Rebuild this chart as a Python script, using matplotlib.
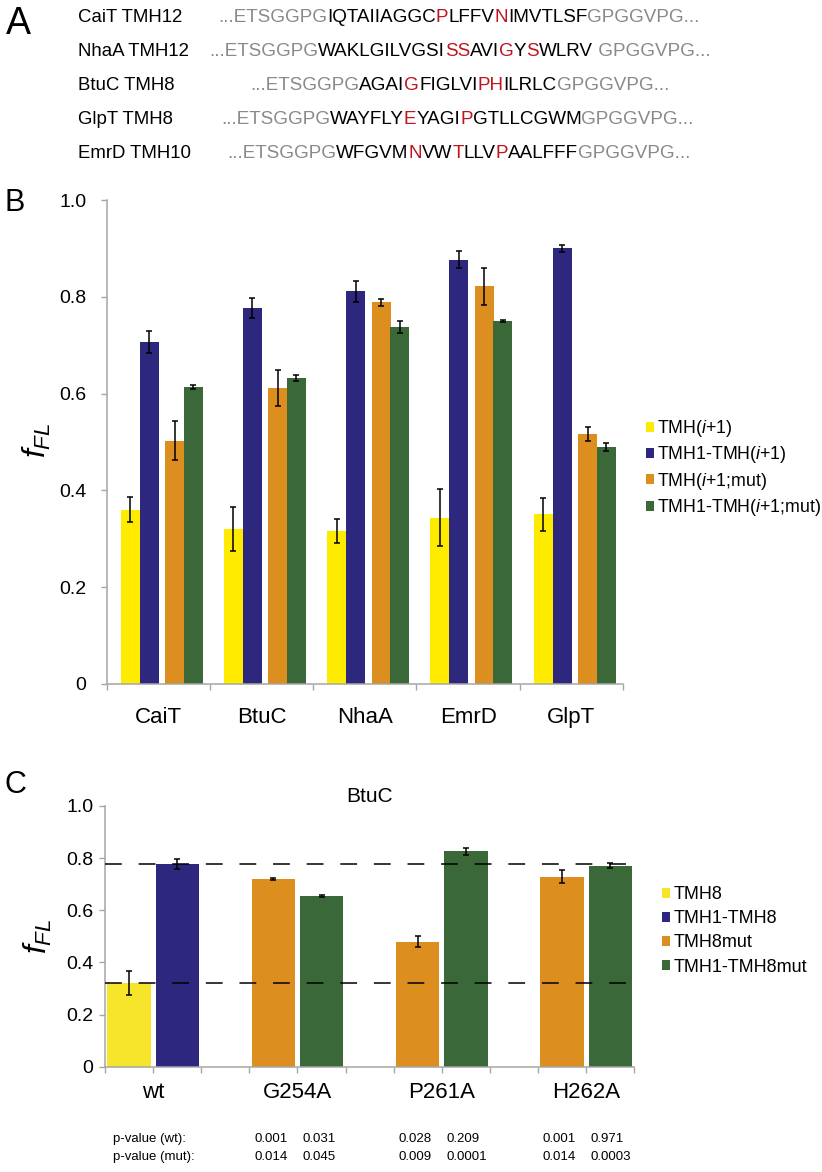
import matplotlib
matplotlib.use('Agg')
import matplotlib.pyplot as plt
from matplotlib.transforms import blended_transform_factory

plt.rcParams['font.family'] = ['Liberation Sans', 'DejaVu Sans']
plt.rcParams['mathtext.fontset'] = 'custom'
plt.rcParams['mathtext.it'] = 'Liberation Sans:italic'
plt.rcParams['mathtext.rm'] = 'Liberation Sans'
plt.rcParams['mathtext.bf'] = 'Liberation Sans:bold'

# ---------------- Panel A data ----------------
seq_names = ['CaiT TMH12', 'NhaA TMH12', 'BtuC TMH8', 'GlpT TMH8', 'EmrD TMH10']
seq_cait = [('...ETSGGPG', 'g'), ('IQTAIIAGGC', 'k'), ('P', 'r'), ('LFFV', 'k'), ('N', 'r'),
            ('IMVTLSF', 'k'), ('GPGGVPG...', 'g')]
seq_nhaa = [('...ETSGGPG', 'g'), ('WAKLGILVGSI', 'k'), ('SS', 'r'), ('AVI', 'k'), ('G', 'r'),
            ('Y', 'k'), ('S', 'r'), ('WLRV', 'k'), (' GPGGVPG...', 'g')]
seq_btuc = [('...ETSGGPG', 'g'), ('AGAI', 'k'), ('G', 'r'), ('FIGLVI', 'k'), ('PH', 'r'),
            ('ILRLC', 'k'), ('GPGGVPG...', 'g')]
seq_glpt = [('...ETSGGPG', 'g'), ('WAYFLY', 'k'), ('E', 'r'), ('YAGI', 'k'), ('P', 'r'),
            ('GTLLCGWM', 'k'), ('GPGGVPG...', 'g')]
seq_emrd = [('...ETSGGPG', 'g'), ('WFGVM', 'k'), ('N', 'r'), ('VW', 'k'), ('T', 'r'),
            ('LLV', 'k'), ('P', 'r'), ('AALFFF', 'k'), ('GPGGVPG...', 'g')]
sequences = [seq_cait, seq_nhaa, seq_btuc, seq_glpt, seq_emrd]

# ---------------- Panel B data ----------------
b_categories = ['CaiT', 'BtuC', 'NhaA', 'EmrD', 'GlpT']
b_labels = [r'TMH($i$+1)', r'TMH1-TMH($i$+1)', r'TMH($i$+1;mut)', r'TMH1-TMH($i$+1;mut)']
b_tmh = [0.360, 0.320, 0.316, 0.344, 0.351]
b_tmh_err = [0.026, 0.045, 0.024, 0.058, 0.034]
b_tmh1 = [0.706, 0.777, 0.811, 0.877, 0.900]
b_tmh1_err = [0.023, 0.021, 0.022, 0.017, 0.007]
b_mut = [0.503, 0.612, 0.789, 0.822, 0.517]
b_mut_err = [0.040, 0.037, 0.007, 0.038, 0.015]
b_tmh1mut = [0.614, 0.632, 0.738, 0.750, 0.490]
b_tmh1mut_err = [0.004, 0.006, 0.013, 0.003, 0.008]

# ---------------- Panel C data ----------------
c_title = 'BtuC'
c_groups = ['wt', 'G254A', 'P261A', 'H262A']
c_labels = ['TMH8', 'TMH1-TMH8', 'TMH8mut', 'TMH1-TMH8mut']
c_tmh8 = 0.320
c_tmh8_err = 0.046
c_tmh1_tmh8 = 0.777
c_tmh1_tmh8_err = 0.020
c_mut = [0.719, 0.480, 0.729]
c_mut_err = [0.003, 0.020, 0.025]
c_tmh1mut = [0.654, 0.826, 0.771]
c_tmh1mut_err = [0.003, 0.013, 0.010]
p_wt = [['0.001', '0.031'], ['0.028', '0.209'], ['0.001', '0.971']]
p_mut = [['0.014', '0.045'], ['0.009', '0.0001'], ['0.014', '0.0003']]

# ---------------- styling ----------------
YELLOW = '#FFEB00'
YELLOW_C = '#F7E52B'
BLUE = '#2D287D'
ORANGE = '#DC8E1E'
GREEN = '#3A6838'
GREY_TXT = '#8A8A8A'
RED_TXT = '#C0141E'
AXC = '#A6A6A6'
txt_colors = {'g': GREY_TXT, 'k': 'black', 'r': RED_TXT}

W, H = 822, 1172
fig = plt.figure(figsize=(W / 100, H / 100), dpi=100)


def fx(px):
    return px / W


def fy(py):
    return 1 - py / H


# ---------------- Panel A ----------------
axA = fig.add_axes([0, 0, 1, 1])
axA.axis('off')
axA.text(fx(18), fy(24), 'A', fontsize=27, ha='center', va='center', transform=fig.transFigure)
row_y = [17, 51, 85, 119, 153]
seq_x = [218, 209, 250, 221, 227]
for name, segs, yy, xx in zip(seq_names, sequences, row_y, seq_x):
    axA.text(fx(78), fy(yy), name, fontsize=13.4, ha='left', va='center',
             transform=fig.transFigure)
    prev = axA.text(fx(xx), fy(yy), segs[0][0], fontsize=13.6, ha='left', va='center',
                    color=txt_colors[segs[0][1]], transform=fig.transFigure)
    for s, c in segs[1:]:
        prev = axA.annotate(s, xy=(1, 0), xycoords=prev, fontsize=13.6,
                            color=txt_colors[c], ha='left', va='bottom')


def style_axes(ax, pad):
    for sp in ['top', 'right']:
        ax.spines[sp].set_visible(False)
    for sp in ['left', 'bottom']:
        ax.spines[sp].set_color(AXC)
        ax.spines[sp].set_linewidth(1.1)
    ax.tick_params(axis='both', colors=AXC, length=4.5, width=1.0, direction='out')
    ax.tick_params(axis='y', labelcolor='black', labelsize=14, pad=pad)
    ax.tick_params(axis='x', labelbottom=False)
    ax.set_ylim(0, 1.0)
    ax.set_yticks([0, 0.2, 0.4, 0.6, 0.8, 1.0])
    ax.set_yticklabels(['0', '0.2', '0.4', '0.6', '0.8', '1.0'])


err_kw = dict(fmt='none', ecolor='black', elinewidth=1.1, capsize=2.4, capthick=1.1, zorder=4)

# ---------------- Panel B ----------------
axB = fig.add_axes([fx(106.7), fy(684), (623 - 106.7) / W, 484 / H])
style_axes(axB, pad=10)
nB = len(b_categories)
xs = list(range(nB))
bw = 0.184
offsets = [-0.273, -0.089, 0.158, 0.337]
b_vals = [b_tmh, b_tmh1, b_mut, b_tmh1mut]
b_errs = [b_tmh_err, b_tmh1_err, b_mut_err, b_tmh1mut_err]
b_cols = [YELLOW, BLUE, ORANGE, GREEN]
b_handles = []
for off, vals, errs, col in zip(offsets, b_vals, b_errs, b_cols):
    pos = [x + off for x in xs]
    h = axB.bar(pos, vals, width=bw, color=col, edgecolor='none', zorder=2)
    axB.errorbar(pos, vals, yerr=errs, **err_kw)
    b_handles.append(h)
axB.set_xlim(-0.5, nB - 0.5)
axB.set_xticks([x - 0.5 for x in range(nB + 1)])
for x, lab in zip(xs, b_categories):
    axB.text(x, -0.07, lab, transform=axB.get_xaxis_transform(), ha='center', va='center',
             fontsize=16)
fig.text(fx(15), fy(203), 'B', fontsize=22, ha='center', va='center')
fig.text(fx(37), fy(440), r'$f_{FL}$', fontsize=23, rotation=90, ha='center', va='center')
fig.legend(b_handles, b_labels, loc='upper left', bbox_to_anchor=(fx(645.5), fy(418)),
           frameon=False, fontsize=12.8, handlelength=0.47, handleheight=0.47,
           handletextpad=0.2, labelspacing=0.3, borderpad=0, borderaxespad=0)

# ---------------- Panel C ----------------
axC = fig.add_axes([fx(105), fy(1066.7), (634.3 - 105) / W, 260.7 / H])
style_axes(axC, pad=4)
nslots = 3 * len(c_groups) - 1
cw = 0.9
hY = axC.bar([0], [c_tmh8], width=cw, color=YELLOW_C, edgecolor='none', zorder=2)
axC.errorbar([0], [c_tmh8], yerr=[c_tmh8_err], **err_kw)
hB = axC.bar([1], [c_tmh1_tmh8], width=cw, color=BLUE, edgecolor='none', zorder=2)
axC.errorbar([1], [c_tmh1_tmh8], yerr=[c_tmh1_tmh8_err], **err_kw)
mut_pos = [3 + 3 * k for k in range(len(c_mut))]
tmh1mut_pos = [4 + 3 * k for k in range(len(c_tmh1mut))]
hO = axC.bar(mut_pos, c_mut, width=cw, color=ORANGE, edgecolor='none', zorder=2)
axC.errorbar(mut_pos, c_mut, yerr=c_mut_err, **err_kw)
hG = axC.bar(tmh1mut_pos, c_tmh1mut, width=cw, color=GREEN, edgecolor='none', zorder=2)
axC.errorbar(tmh1mut_pos, c_tmh1mut, yerr=c_tmh1mut_err, **err_kw)
for ref in [c_tmh8, c_tmh1_tmh8]:
    axC.axhline(ref, color='black', lw=1.1, linestyle=(0, (11, 11)), zorder=5)
axC.set_xlim(-0.5, nslots - 0.5)
axC.set_xticks([x - 0.5 for x in range(nslots + 1)])
grp_centers = [0.5] + [3.5 + 3 * k for k in range(len(c_mut))]
for x, lab in zip(grp_centers, c_groups):
    axC.text(x, -(1093 - 1066.7) / 260.7, lab, transform=axC.get_xaxis_transform(),
             ha='center', va='center', fontsize=16)
fig.text(axC.get_position().x0 + axC.get_position().width / 2, fy(796), c_title,
         fontsize=15, ha='center', va='center')
fig.text(fx(15), fy(785), 'C', fontsize=22, ha='center', va='center')
fig.text(fx(38), fy(936), r'$f_{FL}$', fontsize=23, rotation=90, ha='center', va='center')
fig.legend([hY, hB, hO, hG], c_labels, loc='upper left', bbox_to_anchor=(fx(662), fy(886)),
           frameon=False, fontsize=13, handlelength=0.47, handleheight=0.47,
           handletextpad=0.2, labelspacing=0.4, borderpad=0, borderaxespad=0)

# p-values
trp = blended_transform_factory(axC.transData, fig.transFigure)
fig.text(fx(113), fy(1139), 'p-value (wt):', fontsize=9.5, ha='left', va='center')
fig.text(fx(113), fy(1157), 'p-value (mut):', fontsize=9.5, ha='left', va='center')
for k in range(len(c_mut)):
    for j, pos in enumerate([mut_pos[k], tmh1mut_pos[k]]):
        axC.text(pos - 0.4, fy(1139), p_wt[k][j], transform=trp, fontsize=9.5,
                 ha='left', va='center')
        axC.text(pos - 0.4, fy(1157), p_mut[k][j], transform=trp, fontsize=9.5,
                 ha='left', va='center')

fig.savefig('out.png', dpi=100)
